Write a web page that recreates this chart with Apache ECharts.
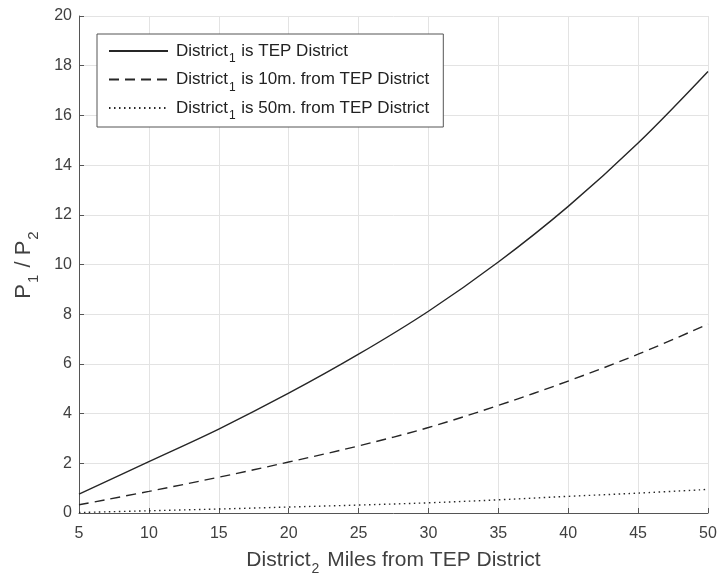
<!DOCTYPE html>
<html>
<head>
<meta charset="utf-8">
<script src="https://cdn.jsdelivr.net/npm/echarts@6/dist/echarts.min.js"></script>
<style>html,body{margin:0;padding:0;background:#fff;}#c{width:722px;height:581px;}</style>
</head>
<body>
<div id="c"></div>
<script>
var xMiles = [5, 10, 15, 20, 25, 30, 35, 40, 45, 50];
var tepDistrict = [0.76, 2.07, 3.38, 4.82, 6.39, 8.12, 10.1, 12.34, 14.89, 17.77];
var from10m = [0.33, 0.87, 1.44, 2.05, 2.70, 3.44, 4.33, 5.31, 6.39, 7.6];
var from50m = [0.02, 0.09, 0.16, 0.24, 0.32, 0.41, 0.53, 0.67, 0.8, 0.95];
var seriesNames = ['District\u2081 is TEP District', 'District\u2081 is 10m. from TEP District', 'District\u2081 is 50m. from TEP District'];

function pairs(ys) { return xMiles.map(function (x, i) { return [x, ys[i]]; }); }

var txt = '#404040';
var font = 'Liberation Sans, Arial, Helvetica, sans-serif';
var chart = echarts.init(document.getElementById('c'));
var lineCommon = { type: 'line', symbol: 'none', showSymbol: false, smooth: 0.35 };

chart.setOption({
  backgroundColor: '#fff',
  animation: false,
  textStyle: { fontFamily: font },
  grid: { left: 79, right: 14, top: 16, bottom: 67 },
  legend: {
    left: 97, top: 34,
    orient: 'vertical',
    backgroundColor: '#fff',
    borderColor: '#555', borderWidth: 1,
    padding: [3, 14, 5, 11],
    itemWidth: 59, itemHeight: 14, itemGap: 0.5,
    itemStyle: { opacity: 0 },
    data: seriesNames,
    formatter: function (name) {
      var rest = name.replace('District\u2081', '');
      return '{f|District}{s|1}{a|' + rest + '}';
    },
    textStyle: {
      color: '#222',
      rich: {
        f: { fontSize: 17, fontFamily: font, color: '#222', lineHeight: 22, padding: [0, 0, 0, 3] },
        a: { fontSize: 17, fontFamily: font, color: '#222', lineHeight: 22 },
        s: { fontSize: 12, fontFamily: font, color: '#222', lineHeight: 12, padding: [16, 1, 0, 1] }
      }
    }
  },
  xAxis: {
    type: 'value', min: 5, max: 50, interval: 5,
    name: '{a|District}{s|2}{a| Miles from TEP District}',
    nameLocation: 'middle', nameGap: 31,
    nameTextStyle: {
      rich: {
        a: { fontSize: 21, fontFamily: font, color: txt, lineHeight: 26 },
        s: { fontSize: 14, fontFamily: font, color: txt, padding: [18, 2, 0, 1] }
      }
    },
    axisLine: { show: true, lineStyle: { color: '#555', width: 1 } },
    axisTick: { show: true, inside: true, length: 5, lineStyle: { color: '#555' } },
    axisLabel: { color: txt, fontSize: 16, fontFamily: font, margin: 13 },
    splitLine: { show: true, lineStyle: { color: '#e3e3e3', width: 1 } }
  },
  yAxis: {
    type: 'value', min: 0, max: 20, interval: 2,
    name: '{a|P}{s|1}{a| / P}{s|2}',
    nameLocation: 'middle', nameGap: 38,
    nameTextStyle: {
      rich: {
        a: { fontSize: 22, fontFamily: font, color: txt, lineHeight: 28 },
        s: { fontSize: 15, fontFamily: font, color: txt, padding: [20, 1, 0, 1] }
      }
    },
    axisLine: { show: true, lineStyle: { color: '#555', width: 1 } },
    axisTick: { show: true, inside: true, length: 5, lineStyle: { color: '#555' } },
    axisLabel: { color: txt, fontSize: 16, fontFamily: font, margin: 7 },
    splitLine: { show: true, lineStyle: { color: '#e3e3e3', width: 1 } }
  },
  series: [
    Object.assign({}, lineCommon, { name: seriesNames[0], data: pairs(tepDistrict),
      lineStyle: { color: '#262626', width: 1.4, type: 'solid' }, itemStyle: { color: '#262626' } }),
    Object.assign({}, lineCommon, { name: seriesNames[1], data: pairs(from10m),
      lineStyle: { color: '#262626', width: 1.4, type: [10, 6] }, itemStyle: { color: '#262626' } }),
    Object.assign({}, lineCommon, { name: seriesNames[2], data: pairs(from50m),
      lineStyle: { color: '#262626', width: 1.4, type: [1.5, 3.5] }, itemStyle: { color: '#262626' } })
  ]
});
</script>
</body>
</html>
